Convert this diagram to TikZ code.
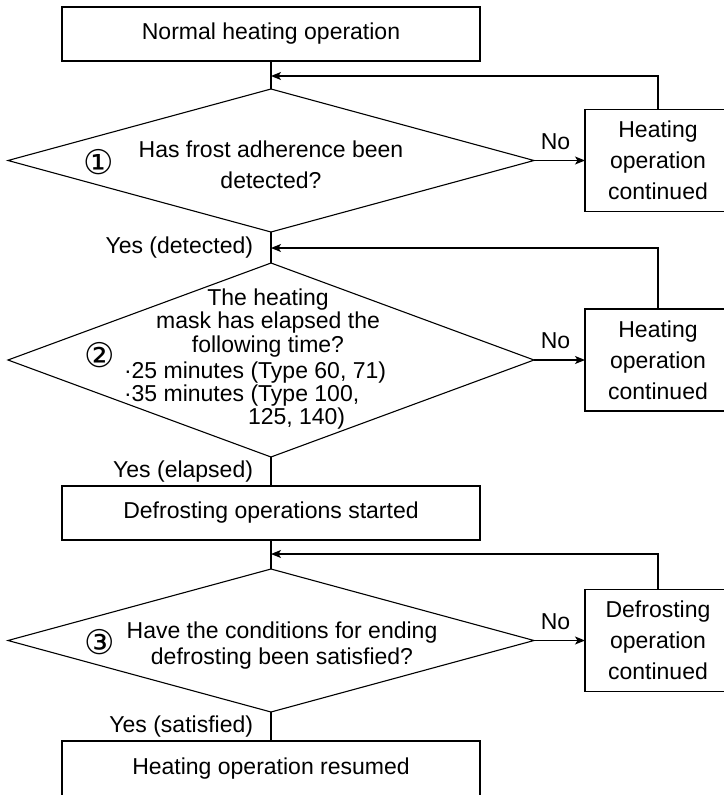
\documentclass[tikz,border=0pt]{standalone}
\usepackage{fontspec}
\setmainfont{Liberation Sans}
\newfontfamily\symfont{DejaVu Sans}
\usetikzlibrary{arrows.meta,positioning,shapes.geometric}

\begin{document}
\begin{tikzpicture}[x=1pt,y=1pt,line width=1.1pt,every node/.style={font=\fontsize{23}{31}\selectfont,align=center,inner sep=0pt,outer sep=0pt},box/.style={draw,minimum width=418pt,minimum height=54pt},sidebox/.style={draw,minimum width=146pt,minimum height=102pt},decision/.style={draw,diamond,minimum width=526pt},arrow/.style={-{Stealth[length=10pt,width=8pt,inset=2.5pt]}},num/.style={font=\fontsize{34}{34}\symfont}]
\useasboundingbox (0,0) rectangle (723,-795);
% main column
\node[box] (start) at (271,-34) {Normal heating operation};
\node[decision,minimum height=143pt,below=28pt of start] (q1) {};
\node[decision,minimum height=194pt,below=31pt of q1] (q2) {};
\node[box,below=29pt of q2] (defrost) {Defrosting operations started};
\node[decision,minimum height=143pt,below=29pt of defrost] (q3) {};
\node[box,minimum height=56pt,below=29pt of q3] (resume) {Heating operation resumed};
% questions
\node (q1txt) at ([yshift=-4pt]q1.center) {Has frost adherence been\\detected?};
\node[num] (n1) at ([xshift=-172.5pt,yshift=-1.5pt]q1.center) {①};
\node[font=\fontsize{23}{23.4}\selectfont] (q2top) at ([xshift=-3pt,yshift=37pt]q2.center) {The heating\\mask has elapsed the\\following time?};
\node[font=\fontsize{23}{23.4}\selectfont,align=left,anchor=west] (q2list) at ([xshift=-147pt,yshift=-35.5pt]q2.center) {·25 minutes (Type 60, 71)\\·35 minutes (Type 100,\\\hspace*{124pt}125, 140)};
\node[num] (n2) at ([xshift=-171.5pt,yshift=5pt]q2.center) {②};
\node[font=\fontsize{23}{26}\selectfont] (q3txt) at ([xshift=11pt,yshift=-5.5pt]q3.center) {Have the conditions for ending\\defrosting been satisfied?};
\node[num] (n3) at ([xshift=-171.5pt,yshift=-1.5pt]q3.center) {③};
% side boxes
\node[sidebox,right=51pt of q1] (r1) {Heating\\operation\\continued};
\node[sidebox,right=51pt of q2] (r2) {Heating\\operation\\continued};
\node[sidebox,right=51pt of q3] (r3) {Defrosting\\operation\\continued};
\coordinate[below=15pt of start] (j1);
\coordinate[below=16pt of q1] (j2);
\coordinate[below=14pt of defrost] (j3);
% connectors
\draw (start) -- (q1);
\draw (q1) -- node[left=18pt] (yes1) {Yes (detected)} (q2);
\draw (q2) -- node[left=18pt] (yes2) {Yes (elapsed)} (defrost);
\draw (defrost) -- (q3);
\draw (q3) -- node[left=18pt] (yes3) {Yes (satisfied)} (resume);
\draw[arrow] (q1) -- node[above=11pt,xshift=-4pt] (no1) {No} (r1);
\draw[arrow] (q2) -- node[above=11pt,xshift=-4pt] (no2) {No} (r2);
\draw[arrow] (q3) -- node[above=11pt,xshift=-4pt] (no3) {No} (r3);
\draw[arrow] (r1.north) |- (j1);
\draw[arrow] (r2.north) |- (j2);
\draw[arrow] (r3.north) |- (j3);
\end{tikzpicture}
\end{document}
